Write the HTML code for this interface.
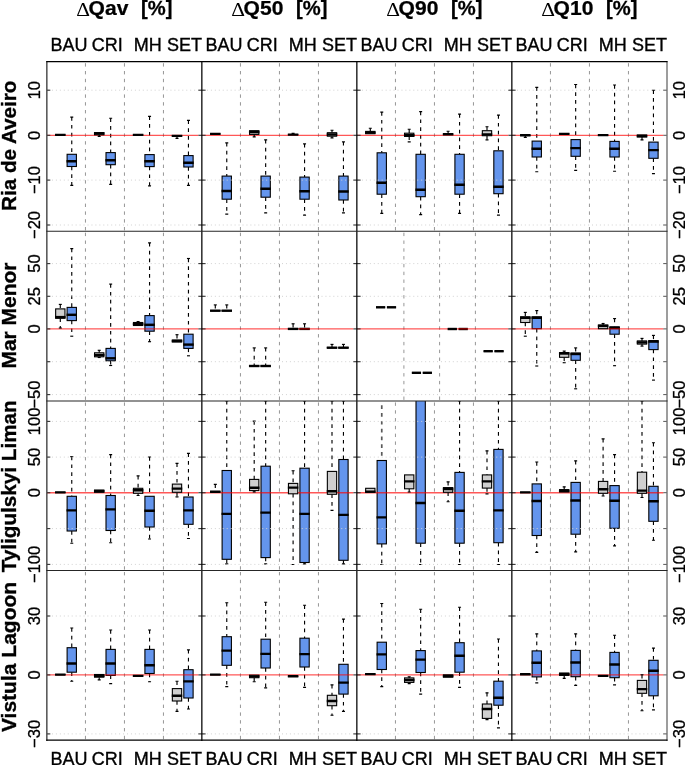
<!DOCTYPE html>
<html><head><meta charset="utf-8"><title>boxplots</title><style>
html,body{margin:0;padding:0;background:#fff;}
body{width:685px;height:765px;overflow:hidden;}
text{opacity:1;}
svg{display:block;will-change:transform;font-family:"Liberation Sans",sans-serif;}
.gd{stroke:#d2d2d2;stroke-width:1;stroke-dasharray:1 2.95;}
.sp{stroke:#969696;stroke-width:1;stroke-dasharray:3.4 4.4;}
.wh{stroke:#000;stroke-width:1.15;stroke-dasharray:3.7 4.1;}
.whg{stroke:#5a5a5a;stroke-width:1.7;stroke-dasharray:3.7 4.1;}
.cap{stroke:#000;stroke-width:1.15;}
.bx{stroke:#000;stroke-width:1.1;}
.md{stroke:#000;stroke-width:2.4;}
.rd{stroke:#ff0000;stroke-opacity:0.66;stroke-width:1.35;}
.tk{stroke:#333;stroke-width:1.1;}
.tk2{stroke:#555;stroke-width:1;}
.fr{stroke:#000;stroke-width:1.25;}
.fr0{stroke:#3c3c3c;stroke-width:1.35;}
.fr2{stroke:#6e6e6e;stroke-width:1.35;}
.fr3{stroke:#262626;stroke-width:1.1;}

.ti{font-size:19.6px;font-weight:bold;fill:#000;stroke:#000;stroke-width:0.25px;}
.ti.dl{font-family:"Liberation Serif",serif;font-weight:normal;font-size:20px;stroke-width:0;}
.ct{font-size:18px;fill:#000;stroke:#000;stroke-width:0.35px;}
.rl{font-size:20.7px;font-weight:bold;fill:#000;stroke:#000;stroke-width:0.35px;}
.tl{font-size:16.5px;fill:#000;stroke:#000;stroke-width:0.3px;}
</style></head><body>
<svg width="685" height="765" viewBox="0 0 685 765">
<defs>
<clipPath id="c00"><rect x="47.0" y="61.7" width="155.0" height="169.5"/></clipPath>
<clipPath id="c01"><rect x="202.0" y="61.7" width="155.0" height="169.5"/></clipPath>
<clipPath id="c02"><rect x="357.0" y="61.7" width="155.0" height="169.5"/></clipPath>
<clipPath id="c03"><rect x="512.0" y="61.7" width="155.0" height="169.5"/></clipPath>
<clipPath id="c10"><rect x="47.0" y="231.2" width="155.0" height="169.75"/></clipPath>
<clipPath id="c11"><rect x="202.0" y="231.2" width="155.0" height="169.75"/></clipPath>
<clipPath id="c12"><rect x="357.0" y="231.2" width="155.0" height="169.75"/></clipPath>
<clipPath id="c13"><rect x="512.0" y="231.2" width="155.0" height="169.75"/></clipPath>
<clipPath id="c20"><rect x="47.0" y="400.95" width="155.0" height="169.55"/></clipPath>
<clipPath id="c21"><rect x="202.0" y="400.95" width="155.0" height="169.55"/></clipPath>
<clipPath id="c22"><rect x="357.0" y="400.95" width="155.0" height="169.55"/></clipPath>
<clipPath id="c23"><rect x="512.0" y="400.95" width="155.0" height="169.55"/></clipPath>
<clipPath id="c30"><rect x="47.0" y="570.5" width="155.0" height="169.70000000000005"/></clipPath>
<clipPath id="c31"><rect x="202.0" y="570.5" width="155.0" height="169.70000000000005"/></clipPath>
<clipPath id="c32"><rect x="357.0" y="570.5" width="155.0" height="169.70000000000005"/></clipPath>
<clipPath id="c33"><rect x="512.0" y="570.5" width="155.0" height="169.70000000000005"/></clipPath>
</defs>
<rect width="685" height="765" fill="#fff"/>
<g clip-path="url(#c00)">
<line x1="85.45" x2="85.45" y1="63.20" y2="231.2" class="sp"/>
<line x1="124.45" x2="124.45" y1="63.20" y2="231.2" class="sp"/>
<line x1="163.45" x2="163.45" y1="63.20" y2="231.2" class="sp"/>
<line x1="71.76" x2="71.76" y1="117.10" y2="154.30" class="wh"/><line x1="70.26" x2="73.26" y1="117.10" y2="117.10" class="cap"/><line x1="71.76" x2="71.76" y1="166.50" y2="185.30" class="wh"/><line x1="70.26" x2="73.26" y1="185.30" y2="185.30" class="cap"/><rect x="67.11" y="154.30" width="9.30" height="12.20" fill="#6495ed" class="bx"/><line x1="66.51" x2="77.01" y1="161.20" y2="161.20" class="md"/>
<line x1="110.66" x2="110.66" y1="118.20" y2="152.60" class="wh"/><line x1="109.16" x2="112.16" y1="118.20" y2="118.20" class="cap"/><line x1="110.66" x2="110.66" y1="164.70" y2="184.30" class="wh"/><line x1="109.16" x2="112.16" y1="184.30" y2="184.30" class="cap"/><rect x="106.01" y="152.60" width="9.30" height="12.10" fill="#6495ed" class="bx"/><line x1="105.41" x2="115.91" y1="160.30" y2="160.30" class="md"/>
<line x1="149.56" x2="149.56" y1="116.30" y2="154.60" class="wh"/><line x1="148.06" x2="151.06" y1="116.30" y2="116.30" class="cap"/><line x1="149.56" x2="149.56" y1="166.60" y2="185.80" class="wh"/><line x1="148.06" x2="151.06" y1="185.80" y2="185.80" class="cap"/><rect x="144.91" y="154.60" width="9.30" height="12.00" fill="#6495ed" class="bx"/><line x1="144.31" x2="154.81" y1="161.30" y2="161.30" class="md"/>
<line x1="188.46" x2="188.46" y1="120.40" y2="155.60" class="wh"/><line x1="186.96" x2="189.96" y1="120.40" y2="120.40" class="cap"/><line x1="188.46" x2="188.46" y1="167.00" y2="185.30" class="wh"/><line x1="186.96" x2="189.96" y1="185.30" y2="185.30" class="cap"/><rect x="183.81" y="155.60" width="9.30" height="11.40" fill="#6495ed" class="bx"/><line x1="183.21" x2="193.71" y1="162.80" y2="162.80" class="md"/>
<line x1="47.0" x2="198.4" y1="135.4" y2="135.4" class="rd"/>
<rect x="55.65" y="134.90" width="9.30" height="0.01" fill="#cfcfcf" class="bx"/><line x1="55.05" x2="65.55" y1="134.90" y2="134.90" class="md"/>
<line x1="99.20" x2="99.20" y1="134.80" y2="136.30" class="wh"/><line x1="97.70" x2="100.70" y1="136.30" y2="136.30" class="cap"/><rect x="94.55" y="132.60" width="9.30" height="2.20" fill="#cfcfcf" class="bx"/><line x1="93.95" x2="104.45" y1="133.50" y2="133.50" class="md"/>
<rect x="133.45" y="134.90" width="9.30" height="0.01" fill="#cfcfcf" class="bx"/><line x1="132.85" x2="143.35" y1="134.90" y2="134.90" class="md"/>
<line x1="177.00" x2="177.00" y1="135.90" y2="138.40" class="wh"/><line x1="175.50" x2="178.50" y1="138.40" y2="138.40" class="cap"/><rect x="172.35" y="135.90" width="9.30" height="0.01" fill="#cfcfcf" class="bx"/><line x1="171.75" x2="182.25" y1="135.90" y2="135.90" class="md"/>
<line x1="48.0" x2="202.0" y1="90.2" y2="90.2" class="gd"/>
<line x1="48.0" x2="202.0" y1="180.1" y2="180.1" class="gd"/>
<line x1="48.0" x2="202.0" y1="225.0" y2="225.0" class="gd"/>
</g>
<line x1="47.0" x2="50.3" y1="90.2" y2="90.2" class="tk"/>
<line x1="47.0" x2="50.3" y1="135.3" y2="135.3" class="tk"/>
<line x1="47.0" x2="50.3" y1="180.1" y2="180.1" class="tk"/>
<line x1="47.0" x2="50.3" y1="225.0" y2="225.0" class="tk"/>
<g clip-path="url(#c01)">
<line x1="240.45" x2="240.45" y1="63.20" y2="231.2" class="sp"/>
<line x1="279.45" x2="279.45" y1="63.20" y2="231.2" class="sp"/>
<line x1="318.45" x2="318.45" y1="63.20" y2="231.2" class="sp"/>
<line x1="226.76" x2="226.76" y1="142.90" y2="176.10" class="wh"/><line x1="225.26" x2="228.26" y1="142.90" y2="142.90" class="cap"/><line x1="226.76" x2="226.76" y1="199.20" y2="214.10" class="wh"/><line x1="225.26" x2="228.26" y1="214.10" y2="214.10" class="cap"/><rect x="222.11" y="176.10" width="9.30" height="23.10" fill="#6495ed" class="bx"/><line x1="221.51" x2="232.01" y1="191.00" y2="191.00" class="md"/>
<line x1="265.66" x2="265.66" y1="139.90" y2="176.10" class="wh"/><line x1="264.16" x2="267.16" y1="139.90" y2="139.90" class="cap"/><line x1="265.66" x2="265.66" y1="197.20" y2="212.90" class="wh"/><line x1="264.16" x2="267.16" y1="212.90" y2="212.90" class="cap"/><rect x="261.01" y="176.10" width="9.30" height="21.10" fill="#6495ed" class="bx"/><line x1="260.41" x2="270.91" y1="188.80" y2="188.80" class="md"/>
<line x1="304.56" x2="304.56" y1="143.90" y2="177.10" class="wh"/><line x1="303.06" x2="306.06" y1="143.90" y2="143.90" class="cap"/><line x1="304.56" x2="304.56" y1="199.20" y2="215.10" class="wh"/><line x1="303.06" x2="306.06" y1="215.10" y2="215.10" class="cap"/><rect x="299.91" y="177.10" width="9.30" height="22.10" fill="#6495ed" class="bx"/><line x1="299.31" x2="309.81" y1="191.30" y2="191.30" class="md"/>
<line x1="343.46" x2="343.46" y1="141.90" y2="176.10" class="wh"/><line x1="341.96" x2="344.96" y1="141.90" y2="141.90" class="cap"/><line x1="343.46" x2="343.46" y1="200.00" y2="212.90" class="wh"/><line x1="341.96" x2="344.96" y1="212.90" y2="212.90" class="cap"/><rect x="338.81" y="176.10" width="9.30" height="23.90" fill="#6495ed" class="bx"/><line x1="338.21" x2="348.71" y1="191.50" y2="191.50" class="md"/>
<line x1="202.0" x2="353.4" y1="135.4" y2="135.4" class="rd"/>
<rect x="210.65" y="133.90" width="9.30" height="0.01" fill="#cfcfcf" class="bx"/><line x1="210.05" x2="220.55" y1="133.90" y2="133.90" class="md"/>
<line x1="254.20" x2="254.20" y1="134.40" y2="136.90" class="wh"/><line x1="252.70" x2="255.70" y1="136.90" y2="136.90" class="cap"/><rect x="249.55" y="130.70" width="9.30" height="3.70" fill="#cfcfcf" class="bx"/><line x1="248.95" x2="259.45" y1="132.00" y2="132.00" class="md"/>
<line x1="293.10" x2="293.10" y1="133.40" y2="134.60" class="wh"/><line x1="291.60" x2="294.60" y1="133.40" y2="133.40" class="cap"/><rect x="288.45" y="134.60" width="9.30" height="0.01" fill="#cfcfcf" class="bx"/><line x1="287.85" x2="298.35" y1="134.60" y2="134.60" class="md"/>
<line x1="332.00" x2="332.00" y1="130.20" y2="132.70" class="wh"/><line x1="330.50" x2="333.50" y1="130.20" y2="130.20" class="cap"/><line x1="332.00" x2="332.00" y1="136.20" y2="137.90" class="wh"/><line x1="330.50" x2="333.50" y1="137.90" y2="137.90" class="cap"/><rect x="327.35" y="132.70" width="9.30" height="3.50" fill="#cfcfcf" class="bx"/><line x1="326.75" x2="337.25" y1="134.50" y2="134.50" class="md"/>
<line x1="203.0" x2="357.0" y1="90.2" y2="90.2" class="gd"/>
<line x1="203.0" x2="357.0" y1="180.1" y2="180.1" class="gd"/>
<line x1="203.0" x2="357.0" y1="225.0" y2="225.0" class="gd"/>
</g>
<line x1="198.4" x2="205.6" y1="90.2" y2="90.2" class="tk"/>
<line x1="198.4" x2="205.6" y1="135.3" y2="135.3" class="tk"/>
<line x1="198.4" x2="205.6" y1="180.1" y2="180.1" class="tk"/>
<line x1="198.4" x2="205.6" y1="225.0" y2="225.0" class="tk"/>
<g clip-path="url(#c02)">
<line x1="395.45" x2="395.45" y1="63.20" y2="231.2" class="sp"/>
<line x1="434.45" x2="434.45" y1="63.20" y2="231.2" class="sp"/>
<line x1="473.45" x2="473.45" y1="63.20" y2="231.2" class="sp"/>
<line x1="381.76" x2="381.76" y1="112.10" y2="152.80" class="wh"/><line x1="380.26" x2="383.26" y1="112.10" y2="112.10" class="cap"/><line x1="381.76" x2="381.76" y1="194.20" y2="213.40" class="wh"/><line x1="380.26" x2="383.26" y1="213.40" y2="213.40" class="cap"/><rect x="377.11" y="152.80" width="9.30" height="41.40" fill="#6495ed" class="bx"/><line x1="376.51" x2="387.01" y1="182.80" y2="182.80" class="md"/>
<line x1="420.66" x2="420.66" y1="111.60" y2="154.30" class="wh"/><line x1="419.16" x2="422.16" y1="111.60" y2="111.60" class="cap"/><line x1="420.66" x2="420.66" y1="196.70" y2="214.60" class="wh"/><line x1="419.16" x2="422.16" y1="214.60" y2="214.60" class="cap"/><rect x="416.01" y="154.30" width="9.30" height="42.40" fill="#6495ed" class="bx"/><line x1="415.41" x2="425.91" y1="189.80" y2="189.80" class="md"/>
<line x1="459.56" x2="459.56" y1="114.10" y2="154.30" class="wh"/><line x1="458.06" x2="461.06" y1="114.10" y2="114.10" class="cap"/><line x1="459.56" x2="459.56" y1="194.20" y2="213.40" class="wh"/><line x1="458.06" x2="461.06" y1="213.40" y2="213.40" class="cap"/><rect x="454.91" y="154.30" width="9.30" height="39.90" fill="#6495ed" class="bx"/><line x1="454.31" x2="464.81" y1="184.80" y2="184.80" class="md"/>
<line x1="498.46" x2="498.46" y1="115.10" y2="150.80" class="wh"/><line x1="496.96" x2="499.96" y1="115.10" y2="115.10" class="cap"/><line x1="498.46" x2="498.46" y1="193.70" y2="215.10" class="wh"/><line x1="496.96" x2="499.96" y1="215.10" y2="215.10" class="cap"/><rect x="493.81" y="150.80" width="9.30" height="42.90" fill="#6495ed" class="bx"/><line x1="493.21" x2="503.71" y1="186.80" y2="186.80" class="md"/>
<line x1="357.0" x2="508.4" y1="135.4" y2="135.4" class="rd"/>
<line x1="370.30" x2="370.30" y1="128.20" y2="131.40" class="wh"/><line x1="368.80" x2="371.80" y1="128.20" y2="128.20" class="cap"/><rect x="365.65" y="131.40" width="9.30" height="2.30" fill="#cfcfcf" class="bx"/><line x1="365.05" x2="375.55" y1="132.60" y2="132.60" class="md"/>
<line x1="409.20" x2="409.20" y1="129.20" y2="133.20" class="wh"/><line x1="407.70" x2="410.70" y1="129.20" y2="129.20" class="cap"/><line x1="409.20" x2="409.20" y1="136.40" y2="141.90" class="wh"/><line x1="407.70" x2="410.70" y1="141.90" y2="141.90" class="cap"/><rect x="404.55" y="133.20" width="9.30" height="3.20" fill="#cfcfcf" class="bx"/><line x1="403.95" x2="414.45" y1="135.20" y2="135.20" class="md"/>
<line x1="448.10" x2="448.10" y1="131.20" y2="134.30" class="wh"/><line x1="446.60" x2="449.60" y1="131.20" y2="131.20" class="cap"/><rect x="443.45" y="134.30" width="9.30" height="0.01" fill="#cfcfcf" class="bx"/><line x1="442.85" x2="453.35" y1="134.30" y2="134.30" class="md"/>
<line x1="487.00" x2="487.00" y1="126.70" y2="130.70" class="wh"/><line x1="485.50" x2="488.50" y1="126.70" y2="126.70" class="cap"/><line x1="487.00" x2="487.00" y1="135.70" y2="139.90" class="wh"/><line x1="485.50" x2="488.50" y1="139.90" y2="139.90" class="cap"/><rect x="482.35" y="130.70" width="9.30" height="5.00" fill="#cfcfcf" class="bx"/><line x1="481.75" x2="492.25" y1="134.40" y2="134.40" class="md"/>
<line x1="358.0" x2="512.0" y1="90.2" y2="90.2" class="gd"/>
<line x1="358.0" x2="512.0" y1="180.1" y2="180.1" class="gd"/>
<line x1="358.0" x2="512.0" y1="225.0" y2="225.0" class="gd"/>
</g>
<line x1="353.4" x2="360.6" y1="90.2" y2="90.2" class="tk"/>
<line x1="353.4" x2="360.6" y1="135.3" y2="135.3" class="tk"/>
<line x1="353.4" x2="360.6" y1="180.1" y2="180.1" class="tk"/>
<line x1="353.4" x2="360.6" y1="225.0" y2="225.0" class="tk"/>
<g clip-path="url(#c03)">
<line x1="550.45" x2="550.45" y1="63.20" y2="231.2" class="sp"/>
<line x1="589.45" x2="589.45" y1="63.20" y2="231.2" class="sp"/>
<line x1="628.45" x2="628.45" y1="63.20" y2="231.2" class="sp"/>
<line x1="536.76" x2="536.76" y1="87.30" y2="141.10" class="wh"/><line x1="535.26" x2="538.26" y1="87.30" y2="87.30" class="cap"/><line x1="536.76" x2="536.76" y1="157.00" y2="171.70" class="wh"/><line x1="535.26" x2="538.26" y1="171.70" y2="171.70" class="cap"/><rect x="532.11" y="141.10" width="9.30" height="15.90" fill="#6495ed" class="bx"/><line x1="531.51" x2="542.01" y1="148.80" y2="148.80" class="md"/>
<line x1="575.66" x2="575.66" y1="84.50" y2="139.60" class="wh"/><line x1="574.16" x2="577.16" y1="84.50" y2="84.50" class="cap"/><line x1="575.66" x2="575.66" y1="156.30" y2="170.40" class="wh"/><line x1="574.16" x2="577.16" y1="170.40" y2="170.40" class="cap"/><rect x="571.01" y="139.60" width="9.30" height="16.70" fill="#6495ed" class="bx"/><line x1="570.41" x2="580.91" y1="148.10" y2="148.10" class="md"/>
<line x1="614.56" x2="614.56" y1="85.00" y2="141.40" class="wh"/><line x1="613.06" x2="616.06" y1="85.00" y2="85.00" class="cap"/><line x1="614.56" x2="614.56" y1="157.00" y2="171.20" class="wh"/><line x1="613.06" x2="616.06" y1="171.20" y2="171.20" class="cap"/><rect x="609.91" y="141.40" width="9.30" height="15.60" fill="#6495ed" class="bx"/><line x1="609.31" x2="619.81" y1="148.80" y2="148.80" class="md"/>
<line x1="653.46" x2="653.46" y1="90.20" y2="142.10" class="wh"/><line x1="651.96" x2="654.96" y1="90.20" y2="90.20" class="cap"/><line x1="653.46" x2="653.46" y1="158.30" y2="173.60" class="wh"/><line x1="651.96" x2="654.96" y1="173.60" y2="173.60" class="cap"/><rect x="648.81" y="142.10" width="9.30" height="16.20" fill="#6495ed" class="bx"/><line x1="648.21" x2="658.71" y1="150.10" y2="150.10" class="md"/>
<line x1="512.0" x2="663.4" y1="135.4" y2="135.4" class="rd"/>
<line x1="525.30" x2="525.30" y1="135.30" y2="137.40" class="wh"/><line x1="523.80" x2="526.80" y1="137.40" y2="137.40" class="cap"/><rect x="520.65" y="135.30" width="9.30" height="0.01" fill="#cfcfcf" class="bx"/><line x1="520.05" x2="530.55" y1="135.30" y2="135.30" class="md"/>
<rect x="559.55" y="133.90" width="9.30" height="0.01" fill="#cfcfcf" class="bx"/><line x1="558.95" x2="569.45" y1="133.90" y2="133.90" class="md"/>
<rect x="598.45" y="135.10" width="9.30" height="0.01" fill="#cfcfcf" class="bx"/><line x1="597.85" x2="608.35" y1="135.10" y2="135.10" class="md"/>
<line x1="642.00" x2="642.00" y1="137.00" y2="139.90" class="wh"/><line x1="640.50" x2="643.50" y1="139.90" y2="139.90" class="cap"/><rect x="637.35" y="135.00" width="9.30" height="2.00" fill="#cfcfcf" class="bx"/><line x1="636.75" x2="647.25" y1="136.00" y2="136.00" class="md"/>
<line x1="513.0" x2="667.0" y1="90.2" y2="90.2" class="gd"/>
<line x1="513.0" x2="667.0" y1="180.1" y2="180.1" class="gd"/>
<line x1="513.0" x2="667.0" y1="225.0" y2="225.0" class="gd"/>
</g>
<line x1="508.4" x2="515.6" y1="90.2" y2="90.2" class="tk"/>
<line x1="663.3" x2="667.0" y1="90.2" y2="90.2" class="tk2"/>
<line x1="508.4" x2="515.6" y1="135.3" y2="135.3" class="tk"/>
<line x1="663.3" x2="667.0" y1="135.3" y2="135.3" class="tk2"/>
<line x1="508.4" x2="515.6" y1="180.1" y2="180.1" class="tk"/>
<line x1="663.3" x2="667.0" y1="180.1" y2="180.1" class="tk2"/>
<line x1="508.4" x2="515.6" y1="225.0" y2="225.0" class="tk"/>
<line x1="663.3" x2="667.0" y1="225.0" y2="225.0" class="tk2"/>
<g clip-path="url(#c10)">
<line x1="85.45" x2="85.45" y1="232.70" y2="400.95" class="sp"/>
<line x1="124.45" x2="124.45" y1="232.70" y2="400.95" class="sp"/>
<line x1="163.45" x2="163.45" y1="232.70" y2="400.95" class="sp"/>
<line x1="71.76" x2="71.76" y1="248.60" y2="307.40" class="wh"/><line x1="70.26" x2="73.26" y1="248.60" y2="248.60" class="cap"/><line x1="71.76" x2="71.76" y1="320.60" y2="336.20" class="wh"/><line x1="70.26" x2="73.26" y1="336.20" y2="336.20" class="cap"/><rect x="67.11" y="307.40" width="9.30" height="13.20" fill="#6495ed" class="bx"/><line x1="66.51" x2="77.01" y1="314.80" y2="314.80" class="md"/>
<line x1="110.66" x2="110.66" y1="284.10" y2="348.40" class="wh"/><line x1="109.16" x2="112.16" y1="284.10" y2="284.10" class="cap"/><line x1="110.66" x2="110.66" y1="360.80" y2="365.50" class="wh"/><line x1="109.16" x2="112.16" y1="365.50" y2="365.50" class="cap"/><rect x="106.01" y="348.40" width="9.30" height="12.40" fill="#6495ed" class="bx"/><line x1="105.41" x2="115.91" y1="358.30" y2="358.30" class="md"/>
<line x1="149.56" x2="149.56" y1="242.90" y2="315.60" class="wh"/><line x1="148.06" x2="151.06" y1="242.90" y2="242.90" class="cap"/><line x1="149.56" x2="149.56" y1="331.20" y2="341.70" class="wh"/><line x1="148.06" x2="151.06" y1="341.70" y2="341.70" class="cap"/><rect x="144.91" y="315.60" width="9.30" height="15.60" fill="#6495ed" class="bx"/><line x1="144.31" x2="154.81" y1="324.80" y2="324.80" class="md"/>
<line x1="188.46" x2="188.46" y1="258.50" y2="334.20" class="wh"/><line x1="186.96" x2="189.96" y1="258.50" y2="258.50" class="cap"/><line x1="188.46" x2="188.46" y1="348.40" y2="355.80" class="wh"/><line x1="186.96" x2="189.96" y1="355.80" y2="355.80" class="cap"/><rect x="183.81" y="334.20" width="9.30" height="14.20" fill="#6495ed" class="bx"/><line x1="183.21" x2="193.71" y1="344.60" y2="344.60" class="md"/>
<line x1="47.0" x2="198.4" y1="328.9" y2="328.9" class="rd"/>
<line x1="60.30" x2="60.30" y1="304.40" y2="308.90" class="wh"/><line x1="58.80" x2="61.80" y1="304.40" y2="304.40" class="cap"/><line x1="60.30" x2="60.30" y1="318.30" y2="328.00" class="wh"/><line x1="58.80" x2="61.80" y1="328.00" y2="328.00" class="cap"/><rect x="55.65" y="308.90" width="9.30" height="9.40" fill="#cfcfcf" class="bx"/><line x1="55.05" x2="65.55" y1="317.10" y2="317.10" class="md"/>
<line x1="99.20" x2="99.20" y1="350.30" y2="352.80" class="wh"/><line x1="97.70" x2="100.70" y1="350.30" y2="350.30" class="cap"/><line x1="99.20" x2="99.20" y1="356.80" y2="357.50" class="wh"/><line x1="97.70" x2="100.70" y1="357.50" y2="357.50" class="cap"/><rect x="94.55" y="352.80" width="9.30" height="4.00" fill="#cfcfcf" class="bx"/><line x1="93.95" x2="104.45" y1="355.10" y2="355.10" class="md"/>
<line x1="138.10" x2="138.10" y1="321.60" y2="322.50" class="wh"/><line x1="136.60" x2="139.60" y1="321.60" y2="321.60" class="cap"/><rect x="133.45" y="322.50" width="9.30" height="3.00" fill="#cfcfcf" class="bx"/><line x1="132.85" x2="143.35" y1="324.00" y2="324.00" class="md"/>
<line x1="177.00" x2="177.00" y1="334.70" y2="340.00" class="wh"/><line x1="175.50" x2="178.50" y1="334.70" y2="334.70" class="cap"/><rect x="172.35" y="340.00" width="9.30" height="2.00" fill="#cfcfcf" class="bx"/><line x1="171.75" x2="182.25" y1="341.00" y2="341.00" class="md"/>
<line x1="48.0" x2="202.0" y1="263.6" y2="263.6" class="gd"/>
<line x1="48.0" x2="202.0" y1="296.3" y2="296.3" class="gd"/>
<line x1="48.0" x2="202.0" y1="361.7" y2="361.7" class="gd"/>
<line x1="48.0" x2="202.0" y1="394.6" y2="394.6" class="gd"/>
</g>
<line x1="47.0" x2="50.3" y1="263.6" y2="263.6" class="tk"/>
<line x1="47.0" x2="50.3" y1="296.3" y2="296.3" class="tk"/>
<line x1="47.0" x2="50.3" y1="328.9" y2="328.9" class="tk"/>
<line x1="47.0" x2="50.3" y1="361.7" y2="361.7" class="tk"/>
<line x1="47.0" x2="50.3" y1="394.6" y2="394.6" class="tk"/>
<g clip-path="url(#c11)">
<line x1="240.45" x2="240.45" y1="232.70" y2="400.95" class="sp"/>
<line x1="279.45" x2="279.45" y1="232.70" y2="400.95" class="sp"/>
<line x1="318.45" x2="318.45" y1="232.70" y2="400.95" class="sp"/>
<line x1="226.76" x2="226.76" y1="304.90" y2="310.70" class="wh"/><line x1="225.26" x2="228.26" y1="304.90" y2="304.90" class="cap"/><rect x="222.11" y="310.70" width="9.30" height="0.01" fill="#6495ed" class="bx"/><line x1="221.51" x2="232.01" y1="310.70" y2="310.70" class="md"/>
<line x1="265.66" x2="265.66" y1="347.90" y2="366.00" class="wh"/><line x1="264.16" x2="267.16" y1="347.90" y2="347.90" class="cap"/><rect x="261.01" y="366.00" width="9.30" height="0.01" fill="#6495ed" class="bx"/><line x1="260.41" x2="270.91" y1="366.00" y2="366.00" class="md"/>
<line x1="304.56" x2="304.56" y1="323.80" y2="328.90" class="wh"/><line x1="303.06" x2="306.06" y1="323.80" y2="323.80" class="cap"/><rect x="299.91" y="328.90" width="9.30" height="0.01" fill="#6495ed" class="bx"/><line x1="299.31" x2="309.81" y1="328.90" y2="328.90" class="md"/>
<line x1="343.46" x2="343.46" y1="344.40" y2="347.70" class="wh"/><line x1="341.96" x2="344.96" y1="344.40" y2="344.40" class="cap"/><rect x="338.81" y="347.70" width="9.30" height="0.01" fill="#6495ed" class="bx"/><line x1="338.21" x2="348.71" y1="347.70" y2="347.70" class="md"/>
<line x1="202.0" x2="353.4" y1="328.9" y2="328.9" class="rd"/>
<line x1="215.30" x2="215.30" y1="304.90" y2="310.70" class="wh"/><line x1="213.80" x2="216.80" y1="304.90" y2="304.90" class="cap"/><rect x="210.65" y="310.70" width="9.30" height="0.01" fill="#cfcfcf" class="bx"/><line x1="210.05" x2="220.55" y1="310.70" y2="310.70" class="md"/>
<line x1="254.20" x2="254.20" y1="347.90" y2="366.00" class="wh"/><line x1="252.70" x2="255.70" y1="347.90" y2="347.90" class="cap"/><rect x="249.55" y="366.00" width="9.30" height="0.01" fill="#cfcfcf" class="bx"/><line x1="248.95" x2="259.45" y1="366.00" y2="366.00" class="md"/>
<line x1="293.10" x2="293.10" y1="323.80" y2="328.90" class="wh"/><line x1="291.60" x2="294.60" y1="323.80" y2="323.80" class="cap"/><rect x="288.45" y="328.90" width="9.30" height="0.01" fill="#cfcfcf" class="bx"/><line x1="287.85" x2="298.35" y1="328.90" y2="328.90" class="md"/>
<line x1="332.00" x2="332.00" y1="344.40" y2="347.70" class="wh"/><line x1="330.50" x2="333.50" y1="344.40" y2="344.40" class="cap"/><rect x="327.35" y="347.70" width="9.30" height="0.01" fill="#cfcfcf" class="bx"/><line x1="326.75" x2="337.25" y1="347.70" y2="347.70" class="md"/>
<line x1="203.0" x2="357.0" y1="263.6" y2="263.6" class="gd"/>
<line x1="203.0" x2="357.0" y1="296.3" y2="296.3" class="gd"/>
<line x1="203.0" x2="357.0" y1="361.7" y2="361.7" class="gd"/>
<line x1="203.0" x2="357.0" y1="394.6" y2="394.6" class="gd"/>
</g>
<line x1="198.4" x2="205.6" y1="263.6" y2="263.6" class="tk"/>
<line x1="198.4" x2="205.6" y1="296.3" y2="296.3" class="tk"/>
<line x1="198.4" x2="205.6" y1="328.9" y2="328.9" class="tk"/>
<line x1="198.4" x2="205.6" y1="361.7" y2="361.7" class="tk"/>
<line x1="198.4" x2="205.6" y1="394.6" y2="394.6" class="tk"/>
<g clip-path="url(#c12)">
<line x1="403.90" x2="403.90" y1="232.70" y2="400.95" class="sp"/>
<line x1="439.60" x2="439.60" y1="232.70" y2="400.95" class="sp"/>
<line x1="475.40" x2="475.40" y1="232.70" y2="400.95" class="sp"/>
<rect x="387.50" y="307.30" width="8.00" height="0.01" fill="#6495ed" class="bx"/><line x1="386.90" x2="396.10" y1="307.30" y2="307.30" class="md"/>
<rect x="423.35" y="372.80" width="8.00" height="0.01" fill="#6495ed" class="bx"/><line x1="422.75" x2="431.95" y1="372.80" y2="372.80" class="md"/>
<rect x="459.20" y="329.00" width="8.00" height="0.01" fill="#6495ed" class="bx"/><line x1="458.60" x2="467.80" y1="329.00" y2="329.00" class="md"/>
<rect x="495.05" y="351.20" width="8.00" height="0.01" fill="#6495ed" class="bx"/><line x1="494.45" x2="503.65" y1="351.20" y2="351.20" class="md"/>
<line x1="357.0" x2="508.4" y1="328.9" y2="328.9" class="rd"/>
<rect x="376.60" y="307.30" width="8.00" height="0.01" fill="#cfcfcf" class="bx"/><line x1="376.00" x2="385.20" y1="307.30" y2="307.30" class="md"/>
<rect x="412.45" y="372.80" width="8.00" height="0.01" fill="#cfcfcf" class="bx"/><line x1="411.85" x2="421.05" y1="372.80" y2="372.80" class="md"/>
<rect x="448.30" y="329.00" width="8.00" height="0.01" fill="#cfcfcf" class="bx"/><line x1="447.70" x2="456.90" y1="329.00" y2="329.00" class="md"/>
<rect x="484.15" y="351.20" width="8.00" height="0.01" fill="#cfcfcf" class="bx"/><line x1="483.55" x2="492.75" y1="351.20" y2="351.20" class="md"/>
<line x1="358.0" x2="512.0" y1="263.6" y2="263.6" class="gd"/>
<line x1="358.0" x2="512.0" y1="296.3" y2="296.3" class="gd"/>
<line x1="358.0" x2="512.0" y1="361.7" y2="361.7" class="gd"/>
<line x1="358.0" x2="512.0" y1="394.6" y2="394.6" class="gd"/>
</g>
<line x1="353.4" x2="360.6" y1="263.6" y2="263.6" class="tk"/>
<line x1="353.4" x2="360.6" y1="296.3" y2="296.3" class="tk"/>
<line x1="353.4" x2="360.6" y1="328.9" y2="328.9" class="tk"/>
<line x1="353.4" x2="360.6" y1="361.7" y2="361.7" class="tk"/>
<line x1="353.4" x2="360.6" y1="394.6" y2="394.6" class="tk"/>
<g clip-path="url(#c13)">
<line x1="550.45" x2="550.45" y1="232.70" y2="400.95" class="sp"/>
<line x1="589.45" x2="589.45" y1="232.70" y2="400.95" class="sp"/>
<line x1="628.45" x2="628.45" y1="232.70" y2="400.95" class="sp"/>
<line x1="536.76" x2="536.76" y1="310.60" y2="316.80" class="wh"/><line x1="535.26" x2="538.26" y1="310.60" y2="310.60" class="cap"/><line x1="536.76" x2="536.76" y1="328.70" y2="366.00" class="wh"/><line x1="535.26" x2="538.26" y1="366.00" y2="366.00" class="cap"/><rect x="532.11" y="316.80" width="9.30" height="11.90" fill="#6495ed" class="bx"/><line x1="531.51" x2="542.01" y1="317.80" y2="317.80" class="md"/>
<line x1="575.66" x2="575.66" y1="347.90" y2="353.00" class="wh"/><line x1="574.16" x2="577.16" y1="347.90" y2="347.90" class="cap"/><line x1="575.66" x2="575.66" y1="360.30" y2="388.80" class="wh"/><line x1="574.16" x2="577.16" y1="388.80" y2="388.80" class="cap"/><rect x="571.01" y="353.00" width="9.30" height="7.30" fill="#6495ed" class="bx"/><line x1="570.41" x2="580.91" y1="354.00" y2="354.00" class="md"/>
<line x1="614.56" x2="614.56" y1="318.60" y2="326.80" class="wh"/><line x1="613.06" x2="616.06" y1="318.60" y2="318.60" class="cap"/><line x1="614.56" x2="614.56" y1="334.20" y2="365.70" class="wh"/><line x1="613.06" x2="616.06" y1="365.70" y2="365.70" class="cap"/><rect x="609.91" y="326.80" width="9.30" height="7.40" fill="#6495ed" class="bx"/><line x1="609.31" x2="619.81" y1="328.00" y2="328.00" class="md"/>
<line x1="653.46" x2="653.46" y1="335.40" y2="340.60" class="wh"/><line x1="651.96" x2="654.96" y1="335.40" y2="335.40" class="cap"/><line x1="653.46" x2="653.46" y1="349.60" y2="380.10" class="wh"/><line x1="651.96" x2="654.96" y1="380.10" y2="380.10" class="cap"/><rect x="648.81" y="340.60" width="9.30" height="9.00" fill="#6495ed" class="bx"/><line x1="648.21" x2="658.71" y1="341.60" y2="341.60" class="md"/>
<line x1="512.0" x2="663.4" y1="328.9" y2="328.9" class="rd"/>
<line x1="525.30" x2="525.30" y1="312.40" y2="316.80" class="wh"/><line x1="523.80" x2="526.80" y1="312.40" y2="312.40" class="cap"/><line x1="525.30" x2="525.30" y1="322.50" y2="336.20" class="wh"/><line x1="523.80" x2="526.80" y1="336.20" y2="336.20" class="cap"/><rect x="520.65" y="316.80" width="9.30" height="5.70" fill="#cfcfcf" class="bx"/><line x1="520.05" x2="530.55" y1="317.80" y2="317.80" class="md"/>
<line x1="564.20" x2="564.20" y1="351.10" y2="352.60" class="wh"/><line x1="562.70" x2="565.70" y1="351.10" y2="351.10" class="cap"/><line x1="564.20" x2="564.20" y1="357.30" y2="362.70" class="wh"/><line x1="562.70" x2="565.70" y1="362.70" y2="362.70" class="cap"/><rect x="559.55" y="352.60" width="9.30" height="4.70" fill="#cfcfcf" class="bx"/><line x1="558.95" x2="569.45" y1="353.50" y2="353.50" class="md"/>
<line x1="603.10" x2="603.10" y1="323.50" y2="325.00" class="wh"/><line x1="601.60" x2="604.60" y1="323.50" y2="323.50" class="cap"/><rect x="598.45" y="325.00" width="9.30" height="3.70" fill="#cfcfcf" class="bx"/><line x1="597.85" x2="608.35" y1="325.90" y2="325.90" class="md"/>
<line x1="642.00" x2="642.00" y1="338.40" y2="340.90" class="wh"/><line x1="640.50" x2="643.50" y1="338.40" y2="338.40" class="cap"/><line x1="642.00" x2="642.00" y1="344.10" y2="346.10" class="wh"/><line x1="640.50" x2="643.50" y1="346.10" y2="346.10" class="cap"/><rect x="637.35" y="340.90" width="9.30" height="3.20" fill="#cfcfcf" class="bx"/><line x1="636.75" x2="647.25" y1="342.40" y2="342.40" class="md"/>
<line x1="513.0" x2="667.0" y1="263.6" y2="263.6" class="gd"/>
<line x1="513.0" x2="667.0" y1="296.3" y2="296.3" class="gd"/>
<line x1="513.0" x2="667.0" y1="361.7" y2="361.7" class="gd"/>
<line x1="513.0" x2="667.0" y1="394.6" y2="394.6" class="gd"/>
</g>
<line x1="508.4" x2="515.6" y1="263.6" y2="263.6" class="tk"/>
<line x1="663.3" x2="667.0" y1="263.6" y2="263.6" class="tk2"/>
<line x1="508.4" x2="515.6" y1="296.3" y2="296.3" class="tk"/>
<line x1="663.3" x2="667.0" y1="296.3" y2="296.3" class="tk2"/>
<line x1="508.4" x2="515.6" y1="328.9" y2="328.9" class="tk"/>
<line x1="663.3" x2="667.0" y1="328.9" y2="328.9" class="tk2"/>
<line x1="508.4" x2="515.6" y1="361.7" y2="361.7" class="tk"/>
<line x1="663.3" x2="667.0" y1="361.7" y2="361.7" class="tk2"/>
<line x1="508.4" x2="515.6" y1="394.6" y2="394.6" class="tk"/>
<line x1="663.3" x2="667.0" y1="394.6" y2="394.6" class="tk2"/>
<g clip-path="url(#c20)">
<line x1="85.45" x2="85.45" y1="402.45" y2="570.5" class="sp"/>
<line x1="124.45" x2="124.45" y1="402.45" y2="570.5" class="sp"/>
<line x1="163.45" x2="163.45" y1="402.45" y2="570.5" class="sp"/>
<line x1="71.76" x2="71.76" y1="456.60" y2="496.30" class="wh"/><line x1="70.26" x2="73.26" y1="456.60" y2="456.60" class="cap"/><line x1="71.76" x2="71.76" y1="531.00" y2="543.20" class="wh"/><line x1="70.26" x2="73.26" y1="543.20" y2="543.20" class="cap"/><rect x="67.11" y="496.30" width="9.30" height="34.70" fill="#6495ed" class="bx"/><line x1="66.51" x2="77.01" y1="510.40" y2="510.40" class="md"/>
<line x1="110.66" x2="110.66" y1="454.60" y2="495.50" class="wh"/><line x1="109.16" x2="112.16" y1="454.60" y2="454.60" class="cap"/><line x1="110.66" x2="110.66" y1="530.50" y2="542.70" class="wh"/><line x1="109.16" x2="112.16" y1="542.70" y2="542.70" class="cap"/><rect x="106.01" y="495.50" width="9.30" height="35.00" fill="#6495ed" class="bx"/><line x1="105.41" x2="115.91" y1="509.40" y2="509.40" class="md"/>
<line x1="149.56" x2="149.56" y1="457.00" y2="496.30" class="wh"/><line x1="148.06" x2="151.06" y1="457.00" y2="457.00" class="cap"/><line x1="149.56" x2="149.56" y1="527.00" y2="539.00" class="wh"/><line x1="148.06" x2="151.06" y1="539.00" y2="539.00" class="cap"/><rect x="144.91" y="496.30" width="9.30" height="30.70" fill="#6495ed" class="bx"/><line x1="144.31" x2="154.81" y1="510.70" y2="510.70" class="md"/>
<line x1="188.46" x2="188.46" y1="453.30" y2="497.00" class="wh"/><line x1="186.96" x2="189.96" y1="453.30" y2="453.30" class="cap"/><line x1="188.46" x2="188.46" y1="524.30" y2="538.50" class="wh"/><line x1="186.96" x2="189.96" y1="538.50" y2="538.50" class="cap"/><rect x="183.81" y="497.00" width="9.30" height="27.30" fill="#6495ed" class="bx"/><line x1="183.21" x2="193.71" y1="510.40" y2="510.40" class="md"/>
<line x1="47.0" x2="198.4" y1="492.7" y2="492.7" class="rd"/>
<rect x="55.65" y="492.40" width="9.30" height="0.01" fill="#cfcfcf" class="bx"/><line x1="55.05" x2="65.55" y1="492.40" y2="492.40" class="md"/>
<rect x="94.55" y="490.00" width="9.30" height="2.20" fill="#cfcfcf" class="bx"/><line x1="93.95" x2="104.45" y1="491.20" y2="491.20" class="md"/>
<line x1="138.10" x2="138.10" y1="475.90" y2="488.30" class="wh"/><line x1="136.60" x2="139.60" y1="475.90" y2="475.90" class="cap"/><line x1="138.10" x2="138.10" y1="493.30" y2="495.50" class="wh"/><line x1="136.60" x2="139.60" y1="495.50" y2="495.50" class="cap"/><rect x="133.45" y="488.30" width="9.30" height="5.00" fill="#cfcfcf" class="bx"/><line x1="132.85" x2="143.35" y1="490.30" y2="490.30" class="md"/>
<line x1="177.00" x2="177.00" y1="463.30" y2="484.10" class="wh"/><line x1="175.50" x2="178.50" y1="463.30" y2="463.30" class="cap"/><line x1="177.00" x2="177.00" y1="492.30" y2="496.80" class="wh"/><line x1="175.50" x2="178.50" y1="496.80" y2="496.80" class="cap"/><rect x="172.35" y="484.10" width="9.30" height="8.20" fill="#cfcfcf" class="bx"/><line x1="171.75" x2="182.25" y1="488.60" y2="488.60" class="md"/>
<line x1="48.0" x2="202.0" y1="421.4" y2="421.4" class="gd"/>
<line x1="48.0" x2="202.0" y1="457.1" y2="457.1" class="gd"/>
<line x1="48.0" x2="202.0" y1="528.6" y2="528.6" class="gd"/>
<line x1="48.0" x2="202.0" y1="564.4" y2="564.4" class="gd"/>
</g>
<line x1="47.0" x2="50.3" y1="421.4" y2="421.4" class="tk"/>
<line x1="47.0" x2="50.3" y1="457.1" y2="457.1" class="tk"/>
<line x1="47.0" x2="50.3" y1="492.7" y2="492.7" class="tk"/>
<line x1="47.0" x2="50.3" y1="528.6" y2="528.6" class="tk"/>
<line x1="47.0" x2="50.3" y1="564.4" y2="564.4" class="tk"/>
<g clip-path="url(#c21)">
<line x1="240.45" x2="240.45" y1="402.45" y2="570.5" class="sp"/>
<line x1="279.45" x2="279.45" y1="402.45" y2="570.5" class="sp"/>
<line x1="318.45" x2="318.45" y1="402.45" y2="570.5" class="sp"/>
<line x1="226.76" x2="226.76" y1="400.90" y2="470.50" class="wh"/><line x1="225.26" x2="228.26" y1="400.90" y2="400.90" class="cap"/><line x1="226.76" x2="226.76" y1="559.30" y2="563.80" class="wh"/><line x1="225.26" x2="228.26" y1="563.80" y2="563.80" class="cap"/><rect x="222.11" y="470.50" width="9.30" height="88.80" fill="#6495ed" class="bx"/><line x1="221.51" x2="232.01" y1="513.90" y2="513.90" class="md"/>
<line x1="265.66" x2="265.66" y1="400.90" y2="466.20" class="wh"/><line x1="264.16" x2="267.16" y1="400.90" y2="400.90" class="cap"/><line x1="265.66" x2="265.66" y1="557.60" y2="563.80" class="wh"/><line x1="264.16" x2="267.16" y1="563.80" y2="563.80" class="cap"/><rect x="261.01" y="466.20" width="9.30" height="91.40" fill="#6495ed" class="bx"/><line x1="260.41" x2="270.91" y1="512.60" y2="512.60" class="md"/>
<line x1="304.56" x2="304.56" y1="400.90" y2="468.20" class="wh"/><line x1="303.06" x2="306.06" y1="400.90" y2="400.90" class="cap"/><line x1="304.56" x2="304.56" y1="562.50" y2="563.80" class="wh"/><line x1="303.06" x2="306.06" y1="563.80" y2="563.80" class="cap"/><rect x="299.91" y="468.20" width="9.30" height="94.30" fill="#6495ed" class="bx"/><line x1="299.31" x2="309.81" y1="513.90" y2="513.90" class="md"/>
<line x1="343.46" x2="343.46" y1="400.90" y2="459.50" class="wh"/><line x1="341.96" x2="344.96" y1="400.90" y2="400.90" class="cap"/><line x1="343.46" x2="343.46" y1="560.30" y2="563.80" class="wh"/><line x1="341.96" x2="344.96" y1="563.80" y2="563.80" class="cap"/><rect x="338.81" y="459.50" width="9.30" height="100.80" fill="#6495ed" class="bx"/><line x1="338.21" x2="348.71" y1="514.90" y2="514.90" class="md"/>
<line x1="202.0" x2="353.4" y1="492.7" y2="492.7" class="rd"/>
<line x1="215.30" x2="215.30" y1="484.40" y2="491.70" class="wh"/><line x1="213.80" x2="216.80" y1="484.40" y2="484.40" class="cap"/><rect x="210.65" y="491.70" width="9.30" height="0.01" fill="#cfcfcf" class="bx"/><line x1="210.05" x2="220.55" y1="491.70" y2="491.70" class="md"/>
<line x1="254.20" x2="254.20" y1="421.10" y2="479.40" class="wh"/><line x1="252.70" x2="255.70" y1="421.10" y2="421.10" class="cap"/><line x1="254.20" x2="254.20" y1="490.60" y2="491.80" class="wh"/><line x1="252.70" x2="255.70" y1="491.80" y2="491.80" class="cap"/><rect x="249.55" y="479.40" width="9.30" height="11.20" fill="#cfcfcf" class="bx"/><line x1="248.95" x2="259.45" y1="487.80" y2="487.80" class="md"/>
<line x1="293.10" x2="293.10" y1="470.70" y2="483.40" class="wh"/><line x1="291.60" x2="294.60" y1="470.70" y2="470.70" class="cap"/><line x1="293.10" x2="293.10" y1="493.80" y2="564.50" class="wh"/><line x1="291.60" x2="294.60" y1="564.50" y2="564.50" class="cap"/><rect x="288.45" y="483.40" width="9.30" height="10.40" fill="#cfcfcf" class="bx"/><line x1="287.85" x2="298.35" y1="487.60" y2="487.60" class="md"/>
<line x1="332.00" x2="332.00" y1="400.90" y2="471.40" class="wh"/><line x1="330.50" x2="333.50" y1="400.90" y2="400.90" class="cap"/><line x1="332.00" x2="332.00" y1="494.30" y2="510.40" class="wh"/><line x1="330.50" x2="333.50" y1="510.40" y2="510.40" class="cap"/><rect x="327.35" y="471.40" width="9.30" height="22.90" fill="#cfcfcf" class="bx"/><line x1="326.75" x2="337.25" y1="491.30" y2="491.30" class="md"/>
<line x1="203.0" x2="357.0" y1="421.4" y2="421.4" class="gd"/>
<line x1="203.0" x2="357.0" y1="457.1" y2="457.1" class="gd"/>
<line x1="203.0" x2="357.0" y1="528.6" y2="528.6" class="gd"/>
<line x1="203.0" x2="357.0" y1="564.4" y2="564.4" class="gd"/>
</g>
<line x1="198.4" x2="205.6" y1="421.4" y2="421.4" class="tk"/>
<line x1="198.4" x2="205.6" y1="457.1" y2="457.1" class="tk"/>
<line x1="198.4" x2="205.6" y1="492.7" y2="492.7" class="tk"/>
<line x1="198.4" x2="205.6" y1="528.6" y2="528.6" class="tk"/>
<line x1="198.4" x2="205.6" y1="564.4" y2="564.4" class="tk"/>
<g clip-path="url(#c22)">
<line x1="395.45" x2="395.45" y1="402.45" y2="570.5" class="sp"/>
<line x1="434.45" x2="434.45" y1="402.45" y2="570.5" class="sp"/>
<line x1="473.45" x2="473.45" y1="402.45" y2="570.5" class="sp"/>
<line x1="381.76" x2="381.76" y1="405.30" y2="460.50" class="whg"/><line x1="381.76" x2="381.76" y1="543.90" y2="564.50" class="wh"/><line x1="380.26" x2="383.26" y1="564.50" y2="564.50" class="cap"/><rect x="377.11" y="460.50" width="9.30" height="83.40" fill="#6495ed" class="bx"/><line x1="376.51" x2="387.01" y1="517.40" y2="517.40" class="md"/>
<line x1="420.66" x2="420.66" y1="543.20" y2="564.50" class="wh"/><line x1="419.16" x2="422.16" y1="564.50" y2="564.50" class="cap"/><rect x="416.01" y="395.90" width="9.30" height="147.30" fill="#6495ed" class="bx"/><line x1="415.41" x2="425.91" y1="503.00" y2="503.00" class="md"/>
<line x1="459.56" x2="459.56" y1="400.90" y2="472.40" class="wh"/><line x1="458.06" x2="461.06" y1="400.90" y2="400.90" class="cap"/><line x1="459.56" x2="459.56" y1="543.20" y2="564.50" class="wh"/><line x1="458.06" x2="461.06" y1="564.50" y2="564.50" class="cap"/><rect x="454.91" y="472.40" width="9.30" height="70.80" fill="#6495ed" class="bx"/><line x1="454.31" x2="464.81" y1="510.70" y2="510.70" class="md"/>
<line x1="498.46" x2="498.46" y1="400.90" y2="449.40" class="wh"/><line x1="496.96" x2="499.96" y1="400.90" y2="400.90" class="cap"/><line x1="498.46" x2="498.46" y1="542.70" y2="564.50" class="wh"/><line x1="496.96" x2="499.96" y1="564.50" y2="564.50" class="cap"/><rect x="493.81" y="449.40" width="9.30" height="93.30" fill="#6495ed" class="bx"/><line x1="493.21" x2="503.71" y1="510.40" y2="510.40" class="md"/>
<line x1="357.0" x2="508.4" y1="492.7" y2="492.7" class="rd"/>
<rect x="365.65" y="488.30" width="9.30" height="4.00" fill="#cfcfcf" class="bx"/><line x1="365.05" x2="375.55" y1="491.60" y2="491.60" class="md"/>
<line x1="409.20" x2="409.20" y1="488.80" y2="492.00" class="wh"/><line x1="407.70" x2="410.70" y1="492.00" y2="492.00" class="cap"/><rect x="404.55" y="474.90" width="9.30" height="13.90" fill="#cfcfcf" class="bx"/><line x1="403.95" x2="414.45" y1="481.40" y2="481.40" class="md"/>
<line x1="448.10" x2="448.10" y1="481.90" y2="487.60" class="wh"/><line x1="446.60" x2="449.60" y1="481.90" y2="481.90" class="cap"/><line x1="448.10" x2="448.10" y1="492.30" y2="501.70" class="wh"/><line x1="446.60" x2="449.60" y1="501.70" y2="501.70" class="cap"/><rect x="443.45" y="487.60" width="9.30" height="4.70" fill="#cfcfcf" class="bx"/><line x1="442.85" x2="453.35" y1="489.00" y2="489.00" class="md"/>
<line x1="487.00" x2="487.00" y1="450.80" y2="474.90" class="wh"/><line x1="485.50" x2="488.50" y1="450.80" y2="450.80" class="cap"/><line x1="487.00" x2="487.00" y1="488.10" y2="493.80" class="wh"/><line x1="485.50" x2="488.50" y1="493.80" y2="493.80" class="cap"/><rect x="482.35" y="474.90" width="9.30" height="13.20" fill="#cfcfcf" class="bx"/><line x1="481.75" x2="492.25" y1="481.40" y2="481.40" class="md"/>
<line x1="358.0" x2="512.0" y1="421.4" y2="421.4" class="gd"/>
<line x1="358.0" x2="512.0" y1="457.1" y2="457.1" class="gd"/>
<line x1="358.0" x2="512.0" y1="528.6" y2="528.6" class="gd"/>
<line x1="358.0" x2="512.0" y1="564.4" y2="564.4" class="gd"/>
</g>
<line x1="353.4" x2="360.6" y1="421.4" y2="421.4" class="tk"/>
<line x1="353.4" x2="360.6" y1="457.1" y2="457.1" class="tk"/>
<line x1="353.4" x2="360.6" y1="492.7" y2="492.7" class="tk"/>
<line x1="353.4" x2="360.6" y1="528.6" y2="528.6" class="tk"/>
<line x1="353.4" x2="360.6" y1="564.4" y2="564.4" class="tk"/>
<g clip-path="url(#c23)">
<line x1="550.45" x2="550.45" y1="402.45" y2="570.5" class="sp"/>
<line x1="589.45" x2="589.45" y1="402.45" y2="570.5" class="sp"/>
<line x1="628.45" x2="628.45" y1="402.45" y2="570.5" class="sp"/>
<line x1="536.76" x2="536.76" y1="462.00" y2="483.90" class="wh"/><line x1="535.26" x2="538.26" y1="462.00" y2="462.00" class="cap"/><line x1="536.76" x2="536.76" y1="535.50" y2="552.40" class="wh"/><line x1="535.26" x2="538.26" y1="552.40" y2="552.40" class="cap"/><rect x="532.11" y="483.90" width="9.30" height="51.60" fill="#6495ed" class="bx"/><line x1="531.51" x2="542.01" y1="501.00" y2="501.00" class="md"/>
<line x1="575.66" x2="575.66" y1="460.80" y2="482.40" class="wh"/><line x1="574.16" x2="577.16" y1="460.80" y2="460.80" class="cap"/><line x1="575.66" x2="575.66" y1="534.20" y2="551.90" class="wh"/><line x1="574.16" x2="577.16" y1="551.90" y2="551.90" class="cap"/><rect x="571.01" y="482.40" width="9.30" height="51.80" fill="#6495ed" class="bx"/><line x1="570.41" x2="580.91" y1="500.50" y2="500.50" class="md"/>
<line x1="614.56" x2="614.56" y1="454.60" y2="485.60" class="wh"/><line x1="613.06" x2="616.06" y1="454.60" y2="454.60" class="cap"/><line x1="614.56" x2="614.56" y1="528.30" y2="545.90" class="wh"/><line x1="613.06" x2="616.06" y1="545.90" y2="545.90" class="cap"/><rect x="609.91" y="485.60" width="9.30" height="42.70" fill="#6495ed" class="bx"/><line x1="609.31" x2="619.81" y1="500.70" y2="500.70" class="md"/>
<line x1="653.46" x2="653.46" y1="442.70" y2="486.30" class="wh"/><line x1="651.96" x2="654.96" y1="442.70" y2="442.70" class="cap"/><line x1="653.46" x2="653.46" y1="521.30" y2="540.20" class="wh"/><line x1="651.96" x2="654.96" y1="540.20" y2="540.20" class="cap"/><rect x="648.81" y="486.30" width="9.30" height="35.00" fill="#6495ed" class="bx"/><line x1="648.21" x2="658.71" y1="501.20" y2="501.20" class="md"/>
<line x1="512.0" x2="663.4" y1="492.7" y2="492.7" class="rd"/>
<rect x="520.65" y="492.40" width="9.30" height="0.01" fill="#cfcfcf" class="bx"/><line x1="520.05" x2="530.55" y1="492.40" y2="492.40" class="md"/>
<line x1="564.20" x2="564.20" y1="486.80" y2="489.60" class="wh"/><line x1="562.70" x2="565.70" y1="486.80" y2="486.80" class="cap"/><rect x="559.55" y="489.60" width="9.30" height="2.40" fill="#cfcfcf" class="bx"/><line x1="558.95" x2="569.45" y1="490.90" y2="490.90" class="md"/>
<line x1="603.10" x2="603.10" y1="438.90" y2="481.40" class="wh"/><line x1="601.60" x2="604.60" y1="438.90" y2="438.90" class="cap"/><line x1="603.10" x2="603.10" y1="493.30" y2="496.00" class="wh"/><line x1="601.60" x2="604.60" y1="496.00" y2="496.00" class="cap"/><rect x="598.45" y="481.40" width="9.30" height="11.90" fill="#cfcfcf" class="bx"/><line x1="597.85" x2="608.35" y1="489.30" y2="489.30" class="md"/>
<line x1="642.00" x2="642.00" y1="400.90" y2="472.20" class="wh"/><line x1="640.50" x2="643.50" y1="400.90" y2="400.90" class="cap"/><line x1="642.00" x2="642.00" y1="493.30" y2="497.50" class="wh"/><line x1="640.50" x2="643.50" y1="497.50" y2="497.50" class="cap"/><rect x="637.35" y="472.20" width="9.30" height="21.10" fill="#cfcfcf" class="bx"/><line x1="636.75" x2="647.25" y1="490.60" y2="490.60" class="md"/>
<line x1="513.0" x2="667.0" y1="421.4" y2="421.4" class="gd"/>
<line x1="513.0" x2="667.0" y1="457.1" y2="457.1" class="gd"/>
<line x1="513.0" x2="667.0" y1="528.6" y2="528.6" class="gd"/>
<line x1="513.0" x2="667.0" y1="564.4" y2="564.4" class="gd"/>
</g>
<line x1="508.4" x2="515.6" y1="421.4" y2="421.4" class="tk"/>
<line x1="663.3" x2="667.0" y1="421.4" y2="421.4" class="tk2"/>
<line x1="508.4" x2="515.6" y1="457.1" y2="457.1" class="tk"/>
<line x1="663.3" x2="667.0" y1="457.1" y2="457.1" class="tk2"/>
<line x1="508.4" x2="515.6" y1="492.7" y2="492.7" class="tk"/>
<line x1="663.3" x2="667.0" y1="492.7" y2="492.7" class="tk2"/>
<line x1="508.4" x2="515.6" y1="528.6" y2="528.6" class="tk"/>
<line x1="663.3" x2="667.0" y1="528.6" y2="528.6" class="tk2"/>
<line x1="508.4" x2="515.6" y1="564.4" y2="564.4" class="tk"/>
<line x1="663.3" x2="667.0" y1="564.4" y2="564.4" class="tk2"/>
<g clip-path="url(#c30)">
<line x1="85.45" x2="85.45" y1="572.00" y2="740.2" class="sp"/>
<line x1="124.45" x2="124.45" y1="572.00" y2="740.2" class="sp"/>
<line x1="163.45" x2="163.45" y1="572.00" y2="740.2" class="sp"/>
<line x1="71.76" x2="71.76" y1="628.00" y2="647.70" class="wh"/><line x1="70.26" x2="73.26" y1="628.00" y2="628.00" class="cap"/><line x1="71.76" x2="71.76" y1="672.20" y2="681.20" class="wh"/><line x1="70.26" x2="73.26" y1="681.20" y2="681.20" class="cap"/><rect x="67.11" y="647.70" width="9.30" height="24.50" fill="#6495ed" class="bx"/><line x1="66.51" x2="77.01" y1="663.50" y2="663.50" class="md"/>
<line x1="110.66" x2="110.66" y1="630.00" y2="649.40" class="wh"/><line x1="109.16" x2="112.16" y1="630.00" y2="630.00" class="cap"/><line x1="110.66" x2="110.66" y1="675.40" y2="683.60" class="wh"/><line x1="109.16" x2="112.16" y1="683.60" y2="683.60" class="cap"/><rect x="106.01" y="649.40" width="9.30" height="26.00" fill="#6495ed" class="bx"/><line x1="105.41" x2="115.91" y1="663.50" y2="663.50" class="md"/>
<line x1="149.56" x2="149.56" y1="630.00" y2="649.40" class="wh"/><line x1="148.06" x2="151.06" y1="630.00" y2="630.00" class="cap"/><line x1="149.56" x2="149.56" y1="673.50" y2="681.70" class="wh"/><line x1="148.06" x2="151.06" y1="681.70" y2="681.70" class="cap"/><rect x="144.91" y="649.40" width="9.30" height="24.10" fill="#6495ed" class="bx"/><line x1="144.31" x2="154.81" y1="665.30" y2="665.30" class="md"/>
<line x1="188.46" x2="188.46" y1="649.90" y2="669.70" class="wh"/><line x1="186.96" x2="189.96" y1="649.90" y2="649.90" class="cap"/><line x1="188.46" x2="188.46" y1="698.00" y2="709.00" class="wh"/><line x1="186.96" x2="189.96" y1="709.00" y2="709.00" class="cap"/><rect x="183.81" y="669.70" width="9.30" height="28.30" fill="#6495ed" class="bx"/><line x1="183.21" x2="193.71" y1="681.40" y2="681.40" class="md"/>
<line x1="47.0" x2="198.4" y1="674.9" y2="674.9" class="rd"/>
<rect x="55.65" y="674.60" width="9.30" height="0.01" fill="#cfcfcf" class="bx"/><line x1="55.05" x2="65.55" y1="674.60" y2="674.60" class="md"/>
<line x1="99.20" x2="99.20" y1="677.20" y2="679.90" class="wh"/><line x1="97.70" x2="100.70" y1="679.90" y2="679.90" class="cap"/><rect x="94.55" y="674.50" width="9.30" height="2.70" fill="#cfcfcf" class="bx"/><line x1="93.95" x2="104.45" y1="675.80" y2="675.80" class="md"/>
<rect x="133.45" y="675.90" width="9.30" height="0.01" fill="#cfcfcf" class="bx"/><line x1="132.85" x2="143.35" y1="675.90" y2="675.90" class="md"/>
<line x1="177.00" x2="177.00" y1="681.20" y2="688.60" class="wh"/><line x1="175.50" x2="178.50" y1="681.20" y2="681.20" class="cap"/><line x1="177.00" x2="177.00" y1="701.00" y2="711.40" class="wh"/><line x1="175.50" x2="178.50" y1="711.40" y2="711.40" class="cap"/><rect x="172.35" y="688.60" width="9.30" height="12.40" fill="#cfcfcf" class="bx"/><line x1="171.75" x2="182.25" y1="695.80" y2="695.80" class="md"/>
<line x1="48.0" x2="202.0" y1="616.0" y2="616.0" class="gd"/>
<line x1="48.0" x2="202.0" y1="733.9" y2="733.9" class="gd"/>
</g>
<line x1="47.0" x2="50.3" y1="616.0" y2="616.0" class="tk"/>
<line x1="47.0" x2="50.3" y1="674.9" y2="674.9" class="tk"/>
<line x1="47.0" x2="50.3" y1="733.9" y2="733.9" class="tk"/>
<g clip-path="url(#c31)">
<line x1="240.45" x2="240.45" y1="572.00" y2="740.2" class="sp"/>
<line x1="279.45" x2="279.45" y1="572.00" y2="740.2" class="sp"/>
<line x1="318.45" x2="318.45" y1="572.00" y2="740.2" class="sp"/>
<line x1="226.76" x2="226.76" y1="602.70" y2="636.70" class="wh"/><line x1="225.26" x2="228.26" y1="602.70" y2="602.70" class="cap"/><line x1="226.76" x2="226.76" y1="665.30" y2="686.60" class="wh"/><line x1="225.26" x2="228.26" y1="686.60" y2="686.60" class="cap"/><rect x="222.11" y="636.70" width="9.30" height="28.60" fill="#6495ed" class="bx"/><line x1="221.51" x2="232.01" y1="650.60" y2="650.60" class="md"/>
<line x1="265.66" x2="265.66" y1="602.20" y2="639.20" class="wh"/><line x1="264.16" x2="267.16" y1="602.20" y2="602.20" class="cap"/><line x1="265.66" x2="265.66" y1="668.00" y2="687.90" class="wh"/><line x1="264.16" x2="267.16" y1="687.90" y2="687.90" class="cap"/><rect x="261.01" y="639.20" width="9.30" height="28.80" fill="#6495ed" class="bx"/><line x1="260.41" x2="270.91" y1="653.90" y2="653.90" class="md"/>
<line x1="304.56" x2="304.56" y1="605.20" y2="638.20" class="wh"/><line x1="303.06" x2="306.06" y1="605.20" y2="605.20" class="cap"/><line x1="304.56" x2="304.56" y1="667.00" y2="687.40" class="wh"/><line x1="303.06" x2="306.06" y1="687.40" y2="687.40" class="cap"/><rect x="299.91" y="638.20" width="9.30" height="28.80" fill="#6495ed" class="bx"/><line x1="299.31" x2="309.81" y1="654.10" y2="654.10" class="md"/>
<line x1="343.46" x2="343.46" y1="619.10" y2="664.30" class="wh"/><line x1="341.96" x2="344.96" y1="619.10" y2="619.10" class="cap"/><line x1="343.46" x2="343.46" y1="694.10" y2="711.40" class="wh"/><line x1="341.96" x2="344.96" y1="711.40" y2="711.40" class="cap"/><rect x="338.81" y="664.30" width="9.30" height="29.80" fill="#6495ed" class="bx"/><line x1="338.21" x2="348.71" y1="682.60" y2="682.60" class="md"/>
<line x1="202.0" x2="353.4" y1="674.9" y2="674.9" class="rd"/>
<rect x="210.65" y="674.60" width="9.30" height="0.01" fill="#cfcfcf" class="bx"/><line x1="210.05" x2="220.55" y1="674.60" y2="674.60" class="md"/>
<line x1="254.20" x2="254.20" y1="677.70" y2="681.70" class="wh"/><line x1="252.70" x2="255.70" y1="681.70" y2="681.70" class="cap"/><rect x="249.55" y="675.20" width="9.30" height="2.50" fill="#cfcfcf" class="bx"/><line x1="248.95" x2="259.45" y1="676.40" y2="676.40" class="md"/>
<rect x="288.45" y="676.30" width="9.30" height="0.01" fill="#cfcfcf" class="bx"/><line x1="287.85" x2="298.35" y1="676.30" y2="676.30" class="md"/>
<line x1="332.00" x2="332.00" y1="684.90" y2="695.30" class="wh"/><line x1="330.50" x2="333.50" y1="684.90" y2="684.90" class="cap"/><line x1="332.00" x2="332.00" y1="705.70" y2="715.20" class="wh"/><line x1="330.50" x2="333.50" y1="715.20" y2="715.20" class="cap"/><rect x="327.35" y="695.30" width="9.30" height="10.40" fill="#cfcfcf" class="bx"/><line x1="326.75" x2="337.25" y1="701.00" y2="701.00" class="md"/>
<line x1="203.0" x2="357.0" y1="616.0" y2="616.0" class="gd"/>
<line x1="203.0" x2="357.0" y1="733.9" y2="733.9" class="gd"/>
</g>
<line x1="198.4" x2="205.6" y1="616.0" y2="616.0" class="tk"/>
<line x1="198.4" x2="205.6" y1="674.9" y2="674.9" class="tk"/>
<line x1="198.4" x2="205.6" y1="733.9" y2="733.9" class="tk"/>
<g clip-path="url(#c32)">
<line x1="395.45" x2="395.45" y1="572.00" y2="740.2" class="sp"/>
<line x1="434.45" x2="434.45" y1="572.00" y2="740.2" class="sp"/>
<line x1="473.45" x2="473.45" y1="572.00" y2="740.2" class="sp"/>
<line x1="381.76" x2="381.76" y1="603.50" y2="642.20" class="wh"/><line x1="380.26" x2="383.26" y1="603.50" y2="603.50" class="cap"/><line x1="381.76" x2="381.76" y1="669.50" y2="686.60" class="wh"/><line x1="380.26" x2="383.26" y1="686.60" y2="686.60" class="cap"/><rect x="377.11" y="642.20" width="9.30" height="27.30" fill="#6495ed" class="bx"/><line x1="376.51" x2="387.01" y1="654.40" y2="654.40" class="md"/>
<line x1="420.66" x2="420.66" y1="609.20" y2="650.60" class="wh"/><line x1="419.16" x2="422.16" y1="609.20" y2="609.20" class="cap"/><line x1="420.66" x2="420.66" y1="672.50" y2="694.10" class="wh"/><line x1="419.16" x2="422.16" y1="694.10" y2="694.10" class="cap"/><rect x="416.01" y="650.60" width="9.30" height="21.90" fill="#6495ed" class="bx"/><line x1="415.41" x2="425.91" y1="659.60" y2="659.60" class="md"/>
<line x1="459.56" x2="459.56" y1="607.20" y2="642.70" class="wh"/><line x1="458.06" x2="461.06" y1="607.20" y2="607.20" class="cap"/><line x1="459.56" x2="459.56" y1="672.20" y2="687.40" class="wh"/><line x1="458.06" x2="461.06" y1="687.40" y2="687.40" class="cap"/><rect x="454.91" y="642.70" width="9.30" height="29.50" fill="#6495ed" class="bx"/><line x1="454.31" x2="464.81" y1="655.80" y2="655.80" class="md"/>
<line x1="498.46" x2="498.46" y1="639.00" y2="681.20" class="wh"/><line x1="496.96" x2="499.96" y1="639.00" y2="639.00" class="cap"/><line x1="498.46" x2="498.46" y1="705.20" y2="727.80" class="wh"/><line x1="496.96" x2="499.96" y1="727.80" y2="727.80" class="cap"/><rect x="493.81" y="681.20" width="9.30" height="24.00" fill="#6495ed" class="bx"/><line x1="493.21" x2="503.71" y1="697.80" y2="697.80" class="md"/>
<line x1="357.0" x2="508.4" y1="674.9" y2="674.9" class="rd"/>
<rect x="365.65" y="674.10" width="9.30" height="0.01" fill="#cfcfcf" class="bx"/><line x1="365.05" x2="375.55" y1="674.10" y2="674.10" class="md"/>
<line x1="409.20" x2="409.20" y1="676.70" y2="677.90" class="wh"/><line x1="407.70" x2="410.70" y1="676.70" y2="676.70" class="cap"/><line x1="409.20" x2="409.20" y1="682.40" y2="683.60" class="wh"/><line x1="407.70" x2="410.70" y1="683.60" y2="683.60" class="cap"/><rect x="404.55" y="677.90" width="9.30" height="4.50" fill="#cfcfcf" class="bx"/><line x1="403.95" x2="414.45" y1="680.00" y2="680.00" class="md"/>
<rect x="443.45" y="674.90" width="9.30" height="2.30" fill="#cfcfcf" class="bx"/><line x1="442.85" x2="453.35" y1="676.00" y2="676.00" class="md"/>
<line x1="487.00" x2="487.00" y1="692.80" y2="704.00" class="wh"/><line x1="485.50" x2="488.50" y1="692.80" y2="692.80" class="cap"/><line x1="487.00" x2="487.00" y1="718.40" y2="719.60" class="wh"/><line x1="485.50" x2="488.50" y1="719.60" y2="719.60" class="cap"/><rect x="482.35" y="704.00" width="9.30" height="14.40" fill="#cfcfcf" class="bx"/><line x1="481.75" x2="492.25" y1="709.00" y2="709.00" class="md"/>
<line x1="358.0" x2="512.0" y1="616.0" y2="616.0" class="gd"/>
<line x1="358.0" x2="512.0" y1="733.9" y2="733.9" class="gd"/>
</g>
<line x1="353.4" x2="360.6" y1="616.0" y2="616.0" class="tk"/>
<line x1="353.4" x2="360.6" y1="674.9" y2="674.9" class="tk"/>
<line x1="353.4" x2="360.6" y1="733.9" y2="733.9" class="tk"/>
<g clip-path="url(#c33)">
<line x1="550.45" x2="550.45" y1="572.00" y2="740.2" class="sp"/>
<line x1="589.45" x2="589.45" y1="572.00" y2="740.2" class="sp"/>
<line x1="628.45" x2="628.45" y1="572.00" y2="740.2" class="sp"/>
<line x1="536.76" x2="536.76" y1="633.80" y2="650.90" class="wh"/><line x1="535.26" x2="538.26" y1="633.80" y2="633.80" class="cap"/><line x1="536.76" x2="536.76" y1="676.90" y2="682.90" class="wh"/><line x1="535.26" x2="538.26" y1="682.90" y2="682.90" class="cap"/><rect x="532.11" y="650.90" width="9.30" height="26.00" fill="#6495ed" class="bx"/><line x1="531.51" x2="542.01" y1="662.80" y2="662.80" class="md"/>
<line x1="575.66" x2="575.66" y1="633.80" y2="650.40" class="wh"/><line x1="574.16" x2="577.16" y1="633.80" y2="633.80" class="cap"/><line x1="575.66" x2="575.66" y1="676.70" y2="685.40" class="wh"/><line x1="574.16" x2="577.16" y1="685.40" y2="685.40" class="cap"/><rect x="571.01" y="650.40" width="9.30" height="26.30" fill="#6495ed" class="bx"/><line x1="570.41" x2="580.91" y1="662.50" y2="662.50" class="md"/>
<line x1="614.56" x2="614.56" y1="635.20" y2="652.40" class="wh"/><line x1="613.06" x2="616.06" y1="635.20" y2="635.20" class="cap"/><line x1="614.56" x2="614.56" y1="677.70" y2="684.90" class="wh"/><line x1="613.06" x2="616.06" y1="684.90" y2="684.90" class="cap"/><rect x="609.91" y="652.40" width="9.30" height="25.30" fill="#6495ed" class="bx"/><line x1="609.31" x2="619.81" y1="664.50" y2="664.50" class="md"/>
<line x1="653.46" x2="653.46" y1="648.10" y2="660.30" class="wh"/><line x1="651.96" x2="654.96" y1="648.10" y2="648.10" class="cap"/><line x1="653.46" x2="653.46" y1="695.80" y2="709.90" class="wh"/><line x1="651.96" x2="654.96" y1="709.90" y2="709.90" class="cap"/><rect x="648.81" y="660.30" width="9.30" height="35.50" fill="#6495ed" class="bx"/><line x1="648.21" x2="658.71" y1="670.70" y2="670.70" class="md"/>
<line x1="512.0" x2="663.4" y1="674.9" y2="674.9" class="rd"/>
<rect x="520.65" y="674.30" width="9.30" height="0.01" fill="#cfcfcf" class="bx"/><line x1="520.05" x2="530.55" y1="674.30" y2="674.30" class="md"/>
<line x1="564.20" x2="564.20" y1="675.40" y2="678.40" class="wh"/><line x1="562.70" x2="565.70" y1="678.40" y2="678.40" class="cap"/><rect x="559.55" y="673.00" width="9.30" height="2.40" fill="#cfcfcf" class="bx"/><line x1="558.95" x2="569.45" y1="674.30" y2="674.30" class="md"/>
<rect x="598.45" y="675.90" width="9.30" height="0.01" fill="#cfcfcf" class="bx"/><line x1="597.85" x2="608.35" y1="675.90" y2="675.90" class="md"/>
<line x1="642.00" x2="642.00" y1="674.70" y2="680.40" class="wh"/><line x1="640.50" x2="643.50" y1="674.70" y2="674.70" class="cap"/><line x1="642.00" x2="642.00" y1="693.30" y2="710.70" class="wh"/><line x1="640.50" x2="643.50" y1="710.70" y2="710.70" class="cap"/><rect x="637.35" y="680.40" width="9.30" height="12.90" fill="#cfcfcf" class="bx"/><line x1="636.75" x2="647.25" y1="689.10" y2="689.10" class="md"/>
<line x1="513.0" x2="667.0" y1="616.0" y2="616.0" class="gd"/>
<line x1="513.0" x2="667.0" y1="733.9" y2="733.9" class="gd"/>
</g>
<line x1="508.4" x2="515.6" y1="616.0" y2="616.0" class="tk"/>
<line x1="663.3" x2="667.0" y1="616.0" y2="616.0" class="tk2"/>
<line x1="508.4" x2="515.6" y1="674.9" y2="674.9" class="tk"/>
<line x1="663.3" x2="667.0" y1="674.9" y2="674.9" class="tk2"/>
<line x1="508.4" x2="515.6" y1="733.9" y2="733.9" class="tk"/>
<line x1="663.3" x2="667.0" y1="733.9" y2="733.9" class="tk2"/>
<line x1="46.85" x2="46.85" y1="61.0" y2="740.9000000000001" class="fr0"/>
<line x1="201.85" x2="201.85" y1="61.0" y2="740.9000000000001" class="fr"/>
<line x1="356.85" x2="356.85" y1="61.0" y2="740.9000000000001" class="fr"/>
<line x1="511.85" x2="511.85" y1="61.0" y2="740.9000000000001" class="fr"/>
<line x1="667.0" x2="667.0" y1="61.0" y2="740.9000000000001" class="fr2"/>
<line x1="46.3" x2="667.5" y1="61.7" y2="61.7" class="fr"/>
<line x1="46.3" x2="667.5" y1="231.2" y2="231.2" class="fr3"/>
<line x1="46.3" x2="667.5" y1="400.95" y2="400.95" class="fr3"/>
<line x1="46.3" x2="667.5" y1="570.5" y2="570.5" class="fr3"/>
<line x1="46.3" x2="667.5" y1="740.2" y2="740.2" class="fr"/>
<text transform="translate(76.2,15.6) scale(1.07,0.96)" class="ti dl">Δ</text>
<text transform="translate(88.6,15.4) scale(1.075,1)" class="ti">Qav</text>
<text transform="translate(172.4,15.4) scale(1.03,1)" class="ti" text-anchor="end">[%]</text>
<text x="50.60" y="51.0" class="ct">BAU</text>
<text x="91.80" y="51.0" class="ct">CRI</text>
<text x="133.70" y="51.0" class="ct">MH</text>
<text x="166.90" y="51.0" class="ct">SET</text>
<text x="50.60" y="764.8" class="ct">BAU</text>
<text x="91.80" y="764.8" class="ct">CRI</text>
<text x="133.70" y="764.8" class="ct">MH</text>
<text x="166.90" y="764.8" class="ct">SET</text>
<text transform="translate(231.2,15.6) scale(1.07,0.96)" class="ti dl">Δ</text>
<text transform="translate(243.6,15.4) scale(1.075,1)" class="ti">Q50</text>
<text transform="translate(327.4,15.4) scale(1.03,1)" class="ti" text-anchor="end">[%]</text>
<text x="205.60" y="51.0" class="ct">BAU</text>
<text x="246.80" y="51.0" class="ct">CRI</text>
<text x="288.70" y="51.0" class="ct">MH</text>
<text x="321.90" y="51.0" class="ct">SET</text>
<text x="205.60" y="764.8" class="ct">BAU</text>
<text x="246.80" y="764.8" class="ct">CRI</text>
<text x="288.70" y="764.8" class="ct">MH</text>
<text x="321.90" y="764.8" class="ct">SET</text>
<text transform="translate(386.2,15.6) scale(1.07,0.96)" class="ti dl">Δ</text>
<text transform="translate(398.6,15.4) scale(1.075,1)" class="ti">Q90</text>
<text transform="translate(482.4,15.4) scale(1.03,1)" class="ti" text-anchor="end">[%]</text>
<text x="360.60" y="51.0" class="ct">BAU</text>
<text x="401.80" y="51.0" class="ct">CRI</text>
<text x="443.70" y="51.0" class="ct">MH</text>
<text x="476.90" y="51.0" class="ct">SET</text>
<text x="360.60" y="764.8" class="ct">BAU</text>
<text x="401.80" y="764.8" class="ct">CRI</text>
<text x="443.70" y="764.8" class="ct">MH</text>
<text x="476.90" y="764.8" class="ct">SET</text>
<text transform="translate(541.2,15.6) scale(1.07,0.96)" class="ti dl">Δ</text>
<text transform="translate(553.6,15.4) scale(1.075,1)" class="ti">Q10</text>
<text transform="translate(637.4,15.4) scale(1.03,1)" class="ti" text-anchor="end">[%]</text>
<text x="515.60" y="51.0" class="ct">BAU</text>
<text x="556.80" y="51.0" class="ct">CRI</text>
<text x="598.70" y="51.0" class="ct">MH</text>
<text x="631.90" y="51.0" class="ct">SET</text>
<text x="515.60" y="764.8" class="ct">BAU</text>
<text x="556.80" y="764.8" class="ct">CRI</text>
<text x="598.70" y="764.8" class="ct">MH</text>
<text x="631.90" y="764.8" class="ct">SET</text>
<text transform="translate(15.8,145.75) rotate(-90) scale(0.998,1)" text-anchor="middle" class="rl">Ria de Aveiro</text>
<text transform="translate(39.55,90.2) rotate(-90)" text-anchor="middle" class="tl">10</text>
<text transform="translate(684.9,90.2) rotate(-90)" text-anchor="middle" class="tl">10</text>
<text transform="translate(39.55,135.3) rotate(-90)" text-anchor="middle" class="tl">0</text>
<text transform="translate(684.9,135.3) rotate(-90)" text-anchor="middle" class="tl">0</text>
<text transform="translate(39.55,180.1) rotate(-90)" text-anchor="middle" class="tl">−10</text>
<text transform="translate(684.9,180.1) rotate(-90)" text-anchor="middle" class="tl">−10</text>
<text transform="translate(39.55,225.0) rotate(-90)" text-anchor="middle" class="tl">−20</text>
<text transform="translate(684.9,225.0) rotate(-90)" text-anchor="middle" class="tl">−20</text>
<text transform="translate(15.8,315.50) rotate(-90) scale(1.014,1)" text-anchor="middle" class="rl">Mar Menor</text>
<text transform="translate(39.55,263.6) rotate(-90)" text-anchor="middle" class="tl">50</text>
<text transform="translate(684.9,263.6) rotate(-90)" text-anchor="middle" class="tl">50</text>
<text transform="translate(39.55,296.3) rotate(-90)" text-anchor="middle" class="tl">25</text>
<text transform="translate(684.9,296.3) rotate(-90)" text-anchor="middle" class="tl">25</text>
<text transform="translate(39.55,328.9) rotate(-90)" text-anchor="middle" class="tl">0</text>
<text transform="translate(684.9,328.9) rotate(-90)" text-anchor="middle" class="tl">0</text>
<text transform="translate(39.55,394.6) rotate(-90)" text-anchor="middle" class="tl">−50</text>
<text transform="translate(684.9,394.6) rotate(-90)" text-anchor="middle" class="tl">−50</text>
<text transform="translate(15.8,486.30) rotate(-90) scale(1.0,1)" text-anchor="middle" class="rl">Tyligulskyi Liman</text>
<text transform="translate(39.55,421.4) rotate(-90)" text-anchor="middle" class="tl">100</text>
<text transform="translate(684.9,421.4) rotate(-90)" text-anchor="middle" class="tl">100</text>
<text transform="translate(39.55,457.1) rotate(-90)" text-anchor="middle" class="tl">50</text>
<text transform="translate(684.9,457.1) rotate(-90)" text-anchor="middle" class="tl">50</text>
<text transform="translate(39.55,492.7) rotate(-90)" text-anchor="middle" class="tl">0</text>
<text transform="translate(684.9,492.7) rotate(-90)" text-anchor="middle" class="tl">0</text>
<text transform="translate(39.55,564.4) rotate(-90)" text-anchor="middle" class="tl">−100</text>
<text transform="translate(684.9,564.4) rotate(-90)" text-anchor="middle" class="tl">−100</text>
<text transform="translate(15.8,656.95) rotate(-90) scale(1.016,1)" text-anchor="middle" class="rl">Vistula Lagoon</text>
<text transform="translate(39.55,616.0) rotate(-90)" text-anchor="middle" class="tl">30</text>
<text transform="translate(684.9,616.0) rotate(-90)" text-anchor="middle" class="tl">30</text>
<text transform="translate(39.55,674.9) rotate(-90)" text-anchor="middle" class="tl">0</text>
<text transform="translate(684.9,674.9) rotate(-90)" text-anchor="middle" class="tl">0</text>
<text transform="translate(39.55,733.9) rotate(-90)" text-anchor="middle" class="tl">−30</text>
<text transform="translate(684.9,733.9) rotate(-90)" text-anchor="middle" class="tl">−30</text>
</svg>
</body></html>
